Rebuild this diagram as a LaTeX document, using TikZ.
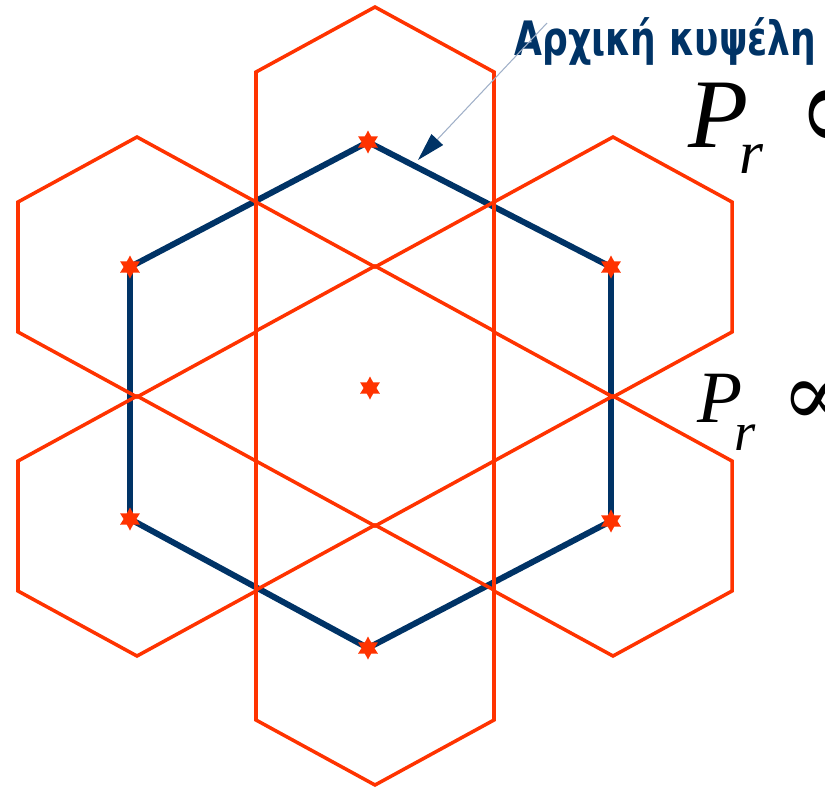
\documentclass[tikz,border=0pt]{standalone}
\usepackage{fontspec}
\newfontfamily\cellfont[FakeStretch=0.76]{DejaVu Sans}
\newfontfamily\formfont{Liberation Serif}
\newfontfamily\symbfont{DejaVu Serif}
\usetikzlibrary{shapes.geometric,arrows.meta}
\definecolor{hexred}{RGB}{255,51,0}
\definecolor{navy}{RGB}{0,51,102}
\definecolor{leader}{RGB}{160,176,200}

\begin{document}
\begin{tikzpicture}[x=0.02cm, y=-0.02cm,
  cell/.style={draw=hexred, line width=2pt, line join=miter},
  reuse/.style={draw=navy, line width=3.4pt, line join=round},
  site/.style={star, star points=6, star point ratio=1.8, fill=hexred, inner sep=0pt, minimum size=0.46cm},
  power/.style={inner sep=0pt, anchor=base west, font=\formfont\itshape},
  prop/.style={inner sep=0pt, anchor=west},
  arrow/.style={draw=leader, line width=0.6pt, -{Triangle[length=16pt, width=9pt, color=navy]}},
]
\useasboundingbox (0,0) rectangle (825,789);
\clip (0,0) rectangle (825,789);

\coordinate (c0) at (370,388);
\coordinate (c1) at (368,142);
\coordinate (c2) at (611,267);
\coordinate (c3) at (611,521);
\coordinate (c4) at (368,648);
\coordinate (c5) at (130,519);
\coordinate (c6) at (130,267);

\draw[reuse] (c1) -- (c2) -- (c3) -- (c4) -- (c5) -- (c6) -- cycle;

\foreach \x/\y in {375/396, 375/137, 613/267, 613/526, 375/655, 137/526, 137/267}
  \draw[cell] (\x,\y) ++(0,-130) -- ++(119,65) -- ++(0,130) -- ++(-119,65)
    -- ++(-119,-65) -- ++(0,-130) -- cycle;

\node[site] (st0) at (c0) {};
\node[site] (st1) at (c1) {};
\node[site] (st2) at (c2) {};
\node[site] (st3) at (c3) {};
\node[site] (st4) at (c4) {};
\node[site] (st5) at (c5) {};
\node[site] (st6) at (c6) {};

\node[font=\cellfont\bfseries\fontsize{27}{32}\selectfont, text=navy, inner sep=0pt, anchor=base west]
  (cell) at (514,55) {Αρχική κυψέλη};
\coordinate (hit) at (418,160);
\draw[arrow] ([shift={(33,-32)}]cell.base west) -- (hit);

\node[power] (prtop) at (688,147)
  {\fontsize{56}{60}\selectfont P\kern-5pt\raisebox{-14.8pt}{\fontsize{35}{40}\selectfont r}};
\node[prop, font=\symbfont\fontsize{72}{76}\selectfont] (proptop) at (795,121) {∝};

\node[power] (prmid) at (697,422)
  {\fontsize{42}{46}\selectfont P\kern-4.5pt\raisebox{-16pt}{\fontsize{31}{35}\selectfont r}};
\node[prop, font=\symbfont\fontsize{51}{55}\selectfont] (propmid) at (781,403) {∝};

\end{tikzpicture}
\end{document}
